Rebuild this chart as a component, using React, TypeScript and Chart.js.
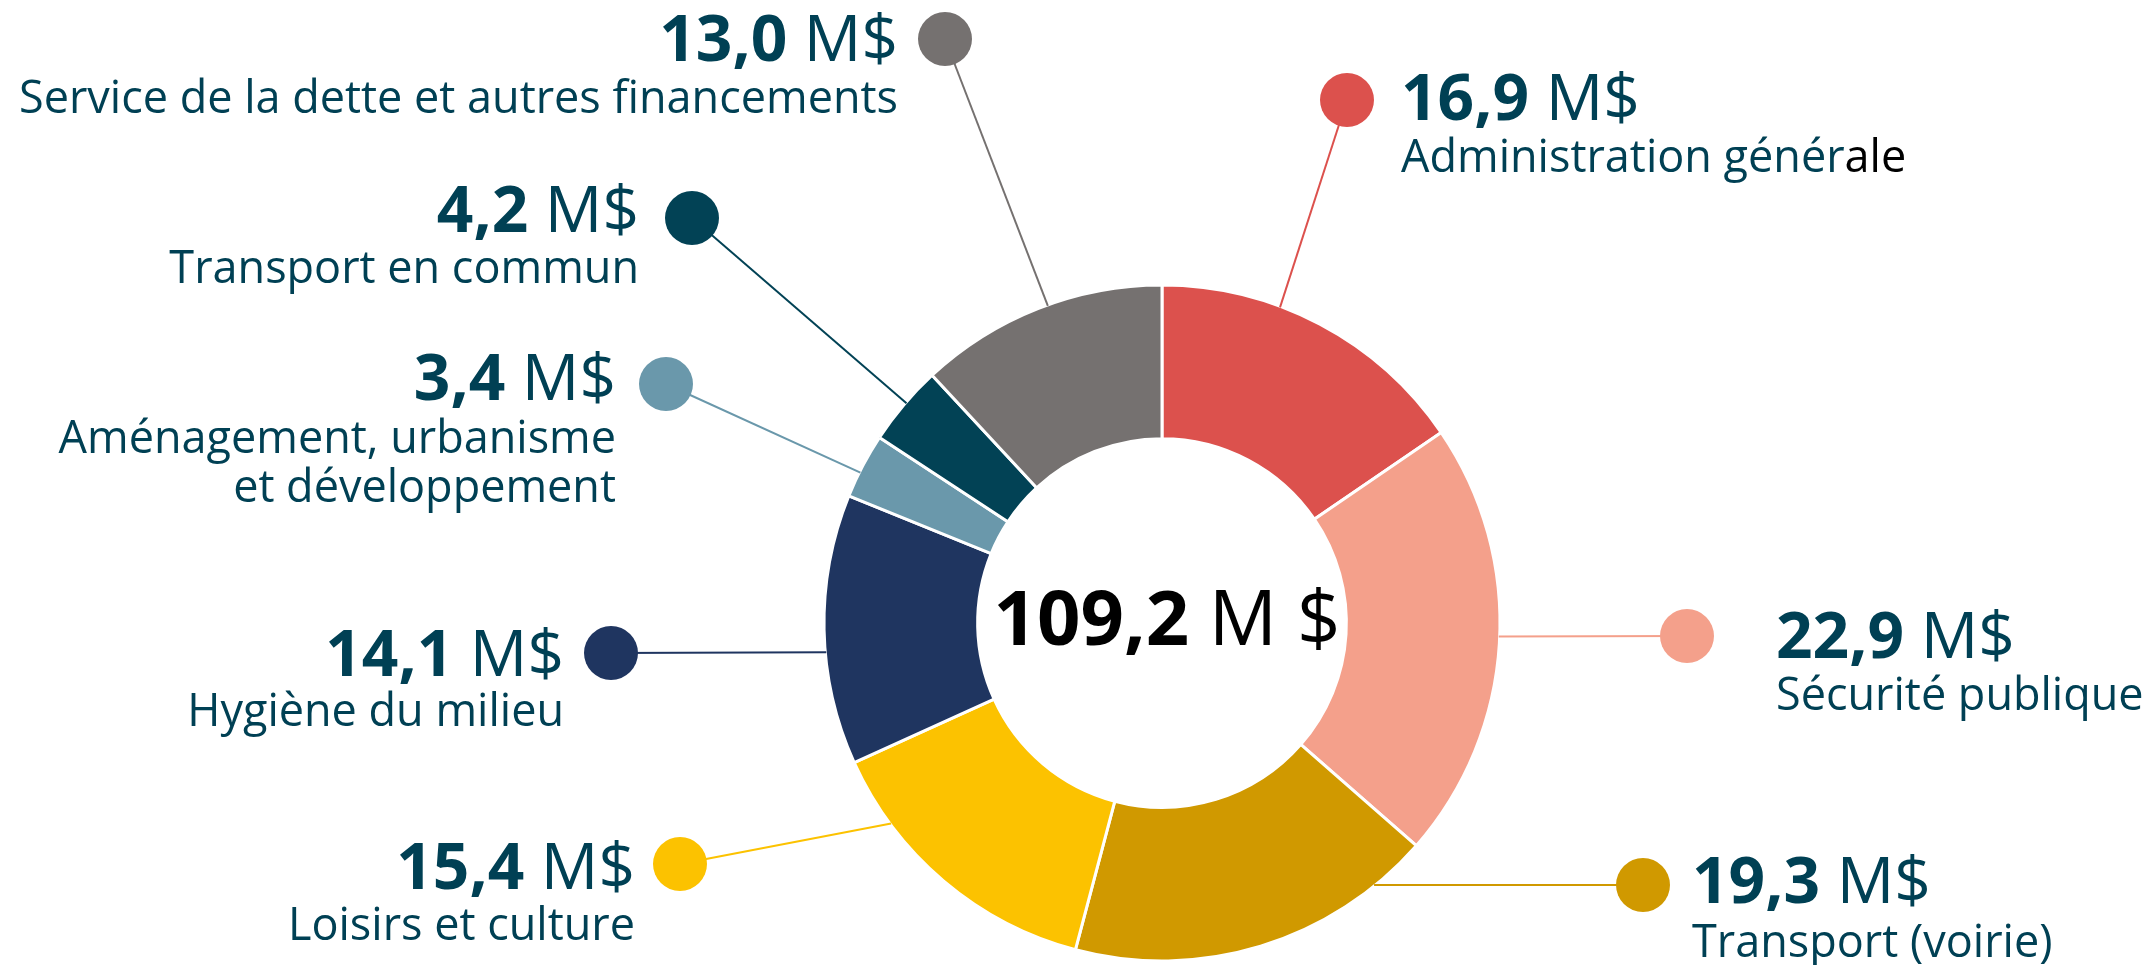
import React, { useEffect, useRef } from "react";
import { Chart, registerables } from "chart.js";

Chart.register(...registerables);

const categories = [
  "Administration générale",
  "Sécurité publique",
  "Transport (voirie)",
  "Loisirs et culture",
  "Hygiène du milieu",
  "Aménagement, urbanisme et développement",
  "Transport en commun",
  "Service de la dette et autres financements",
];
const values = [16.9, 22.9, 19.3, 15.4, 14.1, 3.4, 4.2, 13.0];
const colors = ["#DC514D", "#F4A08B", "#D09900", "#FCC200", "#1F3560", "#6A98AB", "#024255", "#757170"];

// displayed name lines; each line is a list of [text, colour?] segments
const nameLines: [string, string?][][][] = [
  [[["Administration génér"], ["ale", "#000000"]]],
  [[["Sécurité publique"]]],
  [[["Transport (voirie)"]]],
  [[["Loisirs et culture"]]],
  [[["Hygiène du milieu"]]],
  [[["Aménagement, urbanisme"]], [["et développement"]]],
  [[["Transport en commun"]]],
  [[["Service de la dette et autres financements"]]],
];

// layout of the callouts (pixels)
const dotX = [1347, 1687, 1643, 680, 611, 666, 692, 945];
const dotY = [100, 636, 885, 864, 653, 384, 218, 39];
const attachDeg = [20.5, 92.3, 141, 233.5, 265, 296.5, 310.7, 340.2];
const textX = [1401, 1776, 1692, 635, 564, 616, 639, 898];
const textAlign = ["left", "left", "left", "right", "right", "right", "right", "right"];
const numBase = [120, 658, 903, 889, 676, 400, 232, 61];
const nameBase = [172, 710, 957, 940, 726, 453, 283, 113];

const TEXT_COLOR = "#004054";
const FONT = "'Open Sans', 'Noto Sans', sans-serif";
const NUM_SIZE = 64;
const NAME_SIZE = 45;
const NAME_LINE = 49;
const CENTER_SIZE = 76;

const fmt = (v: number) => v.toFixed(1).replace(".", ",");

type Seg = { text: string; font: string; color: string };

function drawSegs(ctx: CanvasRenderingContext2D, segs: Seg[], x: number, y: number, align: string) {
  let total = 0;
  const widths = segs.map((s) => {
    ctx.font = s.font;
    const w = ctx.measureText(s.text).width;
    total += w;
    return w;
  });
  let cx = align === "right" ? x - total : align === "center" ? x - total / 2 : x;
  ctx.textAlign = "left";
  ctx.textBaseline = "alphabetic";
  segs.forEach((s, i) => {
    ctx.font = s.font;
    ctx.fillStyle = s.color;
    ctx.fillText(s.text, cx, y);
    cx += widths[i];
  });
}

const calloutPlugin = {
  id: "callouts",
  afterDraw(chart: any) {
    const ctx: CanvasRenderingContext2D = chart.ctx;
    const meta = chart.getDatasetMeta(0);
    ctx.save();
    meta.data.forEach((arc: any, i: number) => {
      const a = ((attachDeg[i] - 90) * Math.PI) / 180;
      const r = arc.outerRadius - 1;
      const ax = arc.x + r * Math.cos(a);
      const ay = arc.y + r * Math.sin(a);
      ctx.strokeStyle = colors[i];
      ctx.lineWidth = 2;
      ctx.beginPath();
      ctx.moveTo(ax, ay);
      ctx.lineTo(dotX[i], dotY[i]);
      ctx.stroke();
      ctx.fillStyle = colors[i];
      ctx.beginPath();
      ctx.arc(dotX[i], dotY[i], 27, 0, Math.PI * 2);
      ctx.fill();

      drawSegs(
        ctx,
        [
          { text: fmt(values[i]), font: `bold ${NUM_SIZE}px ${FONT}`, color: TEXT_COLOR },
          { text: " M$", font: `${NUM_SIZE}px ${FONT}`, color: TEXT_COLOR },
        ],
        textX[i],
        numBase[i],
        textAlign[i]
      );
      nameLines[i].forEach((line, li) => {
        const segs = line.map(([t, c]) => ({ text: t, font: `${NAME_SIZE}px ${FONT}`, color: c || TEXT_COLOR }));
        drawSegs(ctx, segs, textX[i], nameBase[i] + li * NAME_LINE, textAlign[i]);
      });
    });

    const total = values.reduce((s, v) => s + v, 0);
    drawSegs(
      ctx,
      [
        { text: fmt(total), font: `bold ${CENTER_SIZE}px ${FONT}`, color: "#000000" },
        { text: " M $", font: `${CENTER_SIZE}px ${FONT}`, color: "#000000" },
      ],
      1167,
      645,
      "center"
    );
    ctx.restore();
  },
};

export default function App() {
  const ref = useRef<HTMLCanvasElement>(null);
  useEffect(() => {
    document.body.style.margin = "0";
    document.body.style.overflow = "hidden";
    const chart = new Chart(ref.current!, {
      type: "doughnut",
      data: {
        labels: categories,
        datasets: [
          {
            data: values,
            backgroundColor: colors,
            borderColor: "#ffffff",
            borderWidth: 3,
          },
        ],
      },
      options: {
        animation: false,
        responsive: false,
        radius: 338,
        cutout: 183,
        layout: { padding: { left: 825, right: 650, top: 286, bottom: 5 } },
        plugins: { legend: { display: false }, tooltip: { enabled: false } },
      },
      plugins: [calloutPlugin],
    } as any);
    return () => chart.destroy();
  }, []);
  return (
    <div style={{ position: "absolute", left: 0, top: 0, width: 2149, height: 965, background: "#fff" }}>
      <canvas ref={ref} width={2149} height={965} />
    </div>
  );
}
